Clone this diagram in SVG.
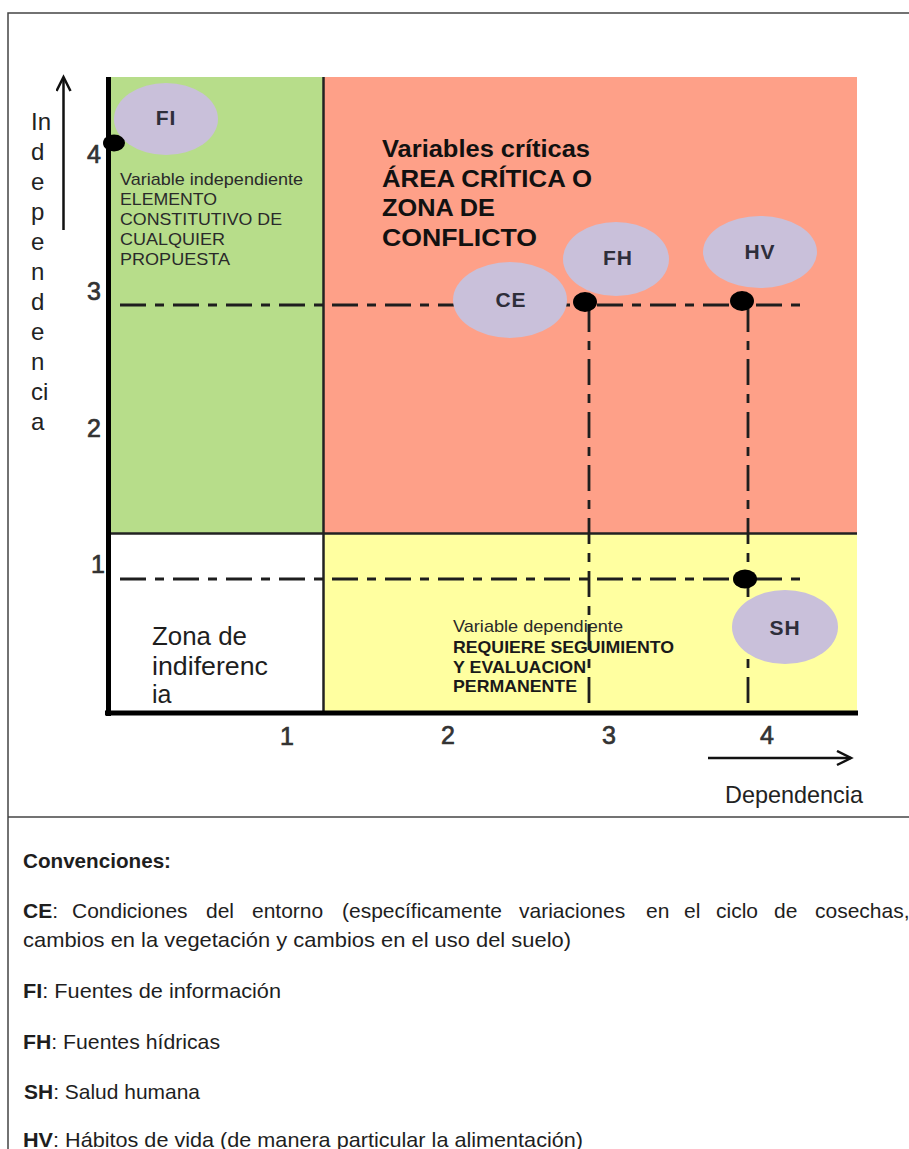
<svg xmlns="http://www.w3.org/2000/svg" width="909" height="1149" viewBox="0 0 909 1149">
<style>
 text { font-family: "Liberation Sans", Arial, sans-serif; }
 .frame { stroke:#444; stroke-width:1.5; fill:none; }
 .axis { stroke:#000; stroke-width:5; fill:none; }
 .divider { stroke:#222; stroke-width:2.5; fill:none; }
 .dash { stroke:#1e1e1e; stroke-width:2.8; fill:none; stroke-dasharray:26 9 9 9; }
 .arrow { stroke:#111; stroke-width:2.5; fill:none; }
 .zone { font-size:17px; fill:#2a2a2a; }
 .zoneb { font-size:16.5px; font-weight:bold; fill:#1a1a1a; }
 .crit { font-size:23px; font-weight:bold; fill:#111; }
 .node ellipse { fill:#c9c0da; }
 .node text { font-size:21px; font-weight:bold; fill:#2e2e3a; text-anchor:middle; letter-spacing:1px; }
 .dot { fill:#000; }
 .num { font-size:25px; fill:#333; stroke:#333; stroke-width:0.7; text-anchor:middle; }
 .ylab { font-size:24px; fill:#222; }
 .big { font-size:25px; fill:#1e1e1e; }
 .conv { font-size:21px; fill:#1e1e1e; }
 .convb { font-weight:bold; }
</style>
<defs>
 <marker id="chev" markerUnits="userSpaceOnUse" markerWidth="20" markerHeight="20" refX="16" refY="8" orient="auto">
  <path d="M2,1 L16,8 L2,15" fill="none" stroke="#111" stroke-width="2.5"/>
 </marker>
</defs>

<!-- outer frame -->
<g id="frame">
 <path class="frame" d="M8,1149 V13 H909"/>
 <path class="frame" d="M8,817 H909"/>
</g>

<!-- quadrants -->
<g id="quadrants">
 <rect x="110" y="77" width="214" height="457" fill="#b7dd8a"/>
 <rect x="324" y="77" width="533" height="457" fill="#fea088"/>
 <rect x="110" y="534" width="214" height="180" fill="#ffffff"/>
 <rect x="324" y="534" width="533" height="180" fill="#ffffa0"/>
 <path class="divider" d="M323.5,77 V714"/>
 <path class="divider" d="M108,533.5 H857"/>
</g>

<!-- zone texts -->
<g id="zone-independiente">
 <text class="zone" x="120" y="185" textLength="183" lengthAdjust="spacingAndGlyphs">Variable independiente</text>
 <text class="zone" x="120" y="205" textLength="97" lengthAdjust="spacingAndGlyphs">ELEMENTO</text>
 <text class="zone" x="120" y="225" textLength="162" lengthAdjust="spacingAndGlyphs">CONSTITUTIVO DE</text>
 <text class="zone" x="120" y="245" textLength="105" lengthAdjust="spacingAndGlyphs">CUALQUIER</text>
 <text class="zone" x="120" y="265" textLength="110" lengthAdjust="spacingAndGlyphs">PROPUESTA</text>
</g>
<g id="zone-critica">
 <text class="crit" x="382" y="157" textLength="208" lengthAdjust="spacingAndGlyphs">Variables críticas</text>
 <text class="crit" x="382" y="187" textLength="210" lengthAdjust="spacingAndGlyphs">ÁREA CRÍTICA O</text>
 <text class="crit" x="382" y="216" textLength="113" lengthAdjust="spacingAndGlyphs">ZONA DE</text>
 <text class="crit" x="382" y="246" textLength="155" lengthAdjust="spacingAndGlyphs">CONFLICTO</text>
</g>
<g id="zone-indiferencia">
 <text class="big" x="152" y="645" textLength="95" lengthAdjust="spacingAndGlyphs">Zona de</text>
 <text class="big" x="152" y="675" textLength="116" lengthAdjust="spacingAndGlyphs">indiferenc</text>
 <text class="big" x="152" y="703">ia</text>
</g>
<g id="zone-dependiente">
 <text class="zone" x="453" y="632" textLength="170" lengthAdjust="spacingAndGlyphs">Variable dependiente</text>
 <text class="zoneb" x="453" y="653" textLength="221" lengthAdjust="spacingAndGlyphs">REQUIERE SEGUIMIENTO</text>
 <text class="zoneb" x="453" y="673" textLength="133" lengthAdjust="spacingAndGlyphs">Y EVALUACION</text>
 <text class="zoneb" x="453" y="692" textLength="124" lengthAdjust="spacingAndGlyphs">PERMANENTE</text>
</g>

<!-- connectors: dash-dot guide lines -->
<g id="connectors">
 <path class="dash" d="M120,305 H803"/>
 <path class="dash" d="M120,579 H803"/>
 <path class="dash" d="M589,306 V713"/>
 <path class="dash" d="M748,306 V713"/>
</g>

<!-- axes -->
<g id="axes">
 <path class="axis" d="M108.5,77 V716"/>
 <path class="axis" d="M105,713 H858"/>
 <path class="arrow" d="M63.5,230 V77" marker-end="url(#chev)"/>
 <path class="arrow" d="M708,758 H851" marker-end="url(#chev)"/>
 <text class="num" x="94" y="163">4</text>
 <text class="num" x="94" y="300">3</text>
 <text class="num" x="94" y="437">2</text>
 <text class="num" x="98" y="573">1</text>
 <text class="num" x="287" y="745">1</text>
 <text class="num" x="448" y="744">2</text>
 <text class="num" x="609" y="744">3</text>
 <text class="num" x="767" y="744">4</text>
 <text class="ylab" x="31" y="130">In</text>
 <text class="ylab" x="31" y="160">d</text>
 <text class="ylab" x="31" y="190">e</text>
 <text class="ylab" x="31" y="220">p</text>
 <text class="ylab" x="31" y="250">e</text>
 <text class="ylab" x="31" y="280">n</text>
 <text class="ylab" x="31" y="310">d</text>
 <text class="ylab" x="31" y="340">e</text>
 <text class="ylab" x="31" y="370">n</text>
 <text class="ylab" x="31" y="400">ci</text>
 <text class="ylab" x="31" y="430">a</text>
 <text class="ylab" x="725" y="803" font-size="23" textLength="138" lengthAdjust="spacingAndGlyphs">Dependencia</text>
</g>

<!-- nodes -->
<g id="node-FI" class="node">
 <ellipse cx="166" cy="119" rx="52" ry="36"/>
 <text x="166" y="125">FI</text>
</g>
<g id="node-CE" class="node">
 <ellipse cx="510" cy="300" rx="57" ry="38"/>
 <text x="511" y="307">CE</text>
</g>
<g id="node-FH" class="node">
 <ellipse cx="616" cy="259" rx="53" ry="37"/>
 <text x="618" y="265">FH</text>
</g>
<g id="node-HV" class="node">
 <ellipse cx="760" cy="252" rx="57" ry="36"/>
 <text x="760" y="259">HV</text>
</g>
<g id="node-SH" class="node">
 <ellipse cx="785" cy="627" rx="53" ry="37"/>
 <text x="785" y="635">SH</text>
</g>

<!-- points -->
<g id="points">
 <ellipse class="dot" cx="114" cy="143" rx="11" ry="8.5"/>
 <ellipse class="dot" cx="585" cy="302" rx="12" ry="10"/>
 <ellipse class="dot" cx="742" cy="301" rx="12" ry="10"/>
 <ellipse class="dot" cx="745" cy="579" rx="12" ry="9.5"/>
</g>

<!-- conventions -->
<g id="conventions">
 <text class="conv convb" x="23" y="868" textLength="148" lengthAdjust="spacingAndGlyphs">Convenciones:</text>
 <text class="conv" y="918"><tspan class="convb" x="23">CE</tspan>:<tspan x="72">Condiciones</tspan><tspan x="206">del</tspan><tspan x="252">entorno</tspan><tspan x="342">(específicamente</tspan><tspan x="519">variaciones</tspan><tspan x="646">en</tspan><tspan x="684">el</tspan><tspan x="716">ciclo</tspan><tspan x="774">de</tspan><tspan x="815">cosechas,</tspan></text>
 <text class="conv" x="23" y="947" textLength="548" lengthAdjust="spacingAndGlyphs">cambios  en la vegetación y cambios en el uso del suelo)</text>
 <text class="conv" x="23" y="998" textLength="258" lengthAdjust="spacingAndGlyphs"><tspan class="convb">FI</tspan>: Fuentes de información</text>
 <text class="conv" x="23" y="1049" textLength="197" lengthAdjust="spacingAndGlyphs"><tspan class="convb">FH</tspan>: Fuentes hídricas</text>
 <text class="conv" x="24" y="1099" textLength="176" lengthAdjust="spacingAndGlyphs"><tspan class="convb">SH</tspan>: Salud humana</text>
 <text class="conv" x="23" y="1147" textLength="560" lengthAdjust="spacingAndGlyphs"><tspan class="convb">HV</tspan>: Hábitos de vida (de manera  particular la alimentación)</text>
</g>
</svg>
